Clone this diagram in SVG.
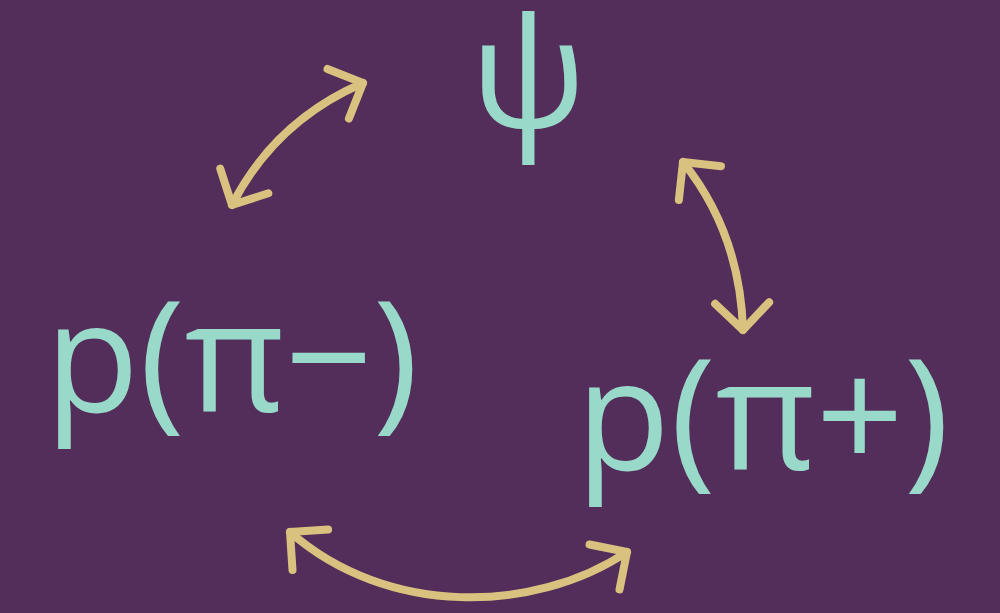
<svg xmlns="http://www.w3.org/2000/svg" width="1000" height="613" viewBox="0 0 1000 613">
<style>
.lbl{font-family:"Open Sans","Noto Sans",sans-serif;font-size:154px;fill:#99d9c9}
.arr{fill:none;stroke:#d9c17f;stroke-width:8;stroke-linecap:round;stroke-linejoin:round}
</style>
<defs>
<marker id="head" viewBox="-40 -40 80 80" markerWidth="80" markerHeight="80" refX="0" refY="0" markerUnits="userSpaceOnUse" orient="auto-start-reverse">
<path d="M -27,-27 L 0,0 L -27,27" fill="none" stroke="#d9c17f" stroke-width="8" stroke-linecap="round" stroke-linejoin="round"/>
</marker>
</defs>
<rect width="1000" height="613" fill="#532e5a"/>
<g id="connectors">
<path class="arr" d="M 232,205 Q 275,121 363,83" marker-start="url(#head)" marker-end="url(#head)"/>
<path class="arr" d="M 683,162 Q 740,233 743,330" marker-start="url(#head)" marker-end="url(#head)"/>
<path class="arr" d="M 290,532 C 387,617 534,614 627,552" marker-start="url(#head)" marker-end="url(#head)"/>
</g>
<g id="psi"><text class="lbl" x="528" y="128" text-anchor="middle">ψ</text></g>
<g id="p-pi-minus"><text class="lbl" x="45" y="412">p(π−)</text></g>
<g id="p-pi-plus"><text class="lbl" x="576" y="470">p(π+)</text></g>
</svg>
